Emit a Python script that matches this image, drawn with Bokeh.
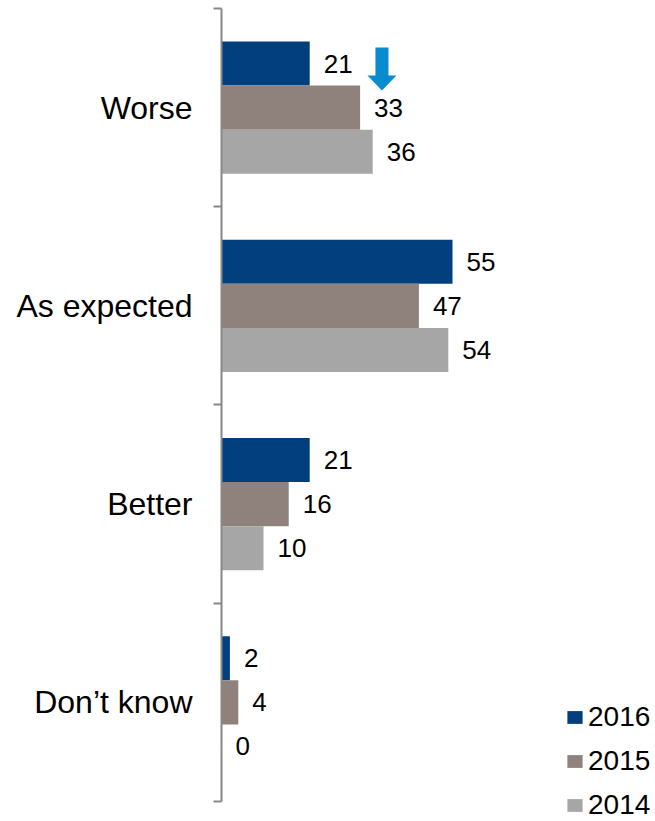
from bokeh.plotting import figure
from bokeh.models import (ColumnDataSource, Range1d, FixedTicker, Legend, LegendItem,
                          PolyAnnotation)
from bokeh.transform import dodge
from bokeh.core.properties import value
from bokeh.embed import file_html
from bokeh.resources import INLINE

# ---- data ----
categories = ["Worse", "As expected", "Better", "Don\u2019t know"]
series = ["2016", "2015", "2014"]
v2016 = [21, 55, 21, 2]
v2015 = [33, 47, 16, 4]
v2014 = [36, 54, 10, 0]
colors = ["#013F7F", "#8F827D", "#A6A6A6"]

FONT = "Liberation Sans"
bar_h = 0.222
offsets = [-bar_h, 0.0, bar_h]
n = len(categories)

pos = [i + 0.5 for i in range(n)]
src = ColumnDataSource(dict(
    pos=pos,
    v2016=v2016, v2015=v2015, v2014=v2014,
    t2016=[str(v) for v in v2016],
    t2015=[str(v) for v in v2015],
    t2014=[str(v) for v in v2014],
))

# frame spans to the right and bottom edges so the legend fits inside it
p = figure(width=655, height=821, output_backend="svg", toolbar_location=None,
           x_range=Range1d(0, 103.33), y_range=Range1d(n + 0.1009, 0),
           x_axis_location=None, y_axis_location="left",
           min_border_left=221, min_border_right=0, min_border_top=8,
           min_border_bottom=0)
p.outline_line_color = None
p.background_fill_color = "white"
p.border_fill_color = "white"
p.grid.visible = False

renderers = []
for s, col, off in zip(series, colors, offsets):
    r = p.hbar(y=dodge("pos", off, range=p.y_range), left=0, right="v" + s,
               height=bar_h, source=src, fill_color=col, line_color=None)
    renderers.append(r)
    p.text(x="v" + s, y=dodge("pos", off, range=p.y_range), text="t" + s,
           source=src, x_offset=14, text_baseline="middle", text_align="left",
           text_font=value(FONT), text_font_size="26px", text_color="#000000")

# axis with category labels at centers and ticks at the category boundaries
ax = p.yaxis[0]
ax.bounds = (0, n)
ax.ticker = FixedTicker(ticks=pos, minor_ticks=list(range(n + 1)))
ax.major_label_overrides = {float(y): c for y, c in zip(pos, categories)}
ax.major_tick_out = 0
ax.major_tick_in = 0
ax.minor_tick_out = 8
ax.minor_tick_in = 0
ax.minor_tick_line_color = "#888888"
ax.minor_tick_line_width = 2
ax.axis_line_color = "#888888"
ax.axis_line_width = 2
ax.major_label_text_font = FONT
ax.major_label_text_font_size = "32px"
ax.major_label_text_color = "#000000"
ax.major_label_standoff = 21

# blue "decrease" arrow beside the 2016 value of "Worse"
arrow_x = v2016[0] + 17.2
shaft_half, head_half = 1.55, 3.45
y_top, y_neck, y_tip = 0.197, 0.338, 0.414
p.add_layout(PolyAnnotation(
    xs=[arrow_x - shaft_half, arrow_x + shaft_half, arrow_x + shaft_half,
        arrow_x + head_half, arrow_x, arrow_x - head_half, arrow_x - shaft_half],
    ys=[y_top, y_top, y_neck, y_neck, y_tip, y_neck, y_neck],
    fill_color="#0A8BD0", fill_alpha=1.0, line_color=None))

legend = Legend(items=[LegendItem(label=s, renderers=[r]) for s, r in zip(series, renderers)],
                location=(344, 0), orientation="vertical",
                glyph_width=19, glyph_height=16, label_standoff=4,
                label_text_font=FONT, label_text_font_size="28px",
                label_text_color="#000000", spacing=12, padding=0, margin=0,
                border_line_color=None, background_fill_alpha=0)
p.add_layout(legend)

open("out.html", "w").write(file_html(p, INLINE))
